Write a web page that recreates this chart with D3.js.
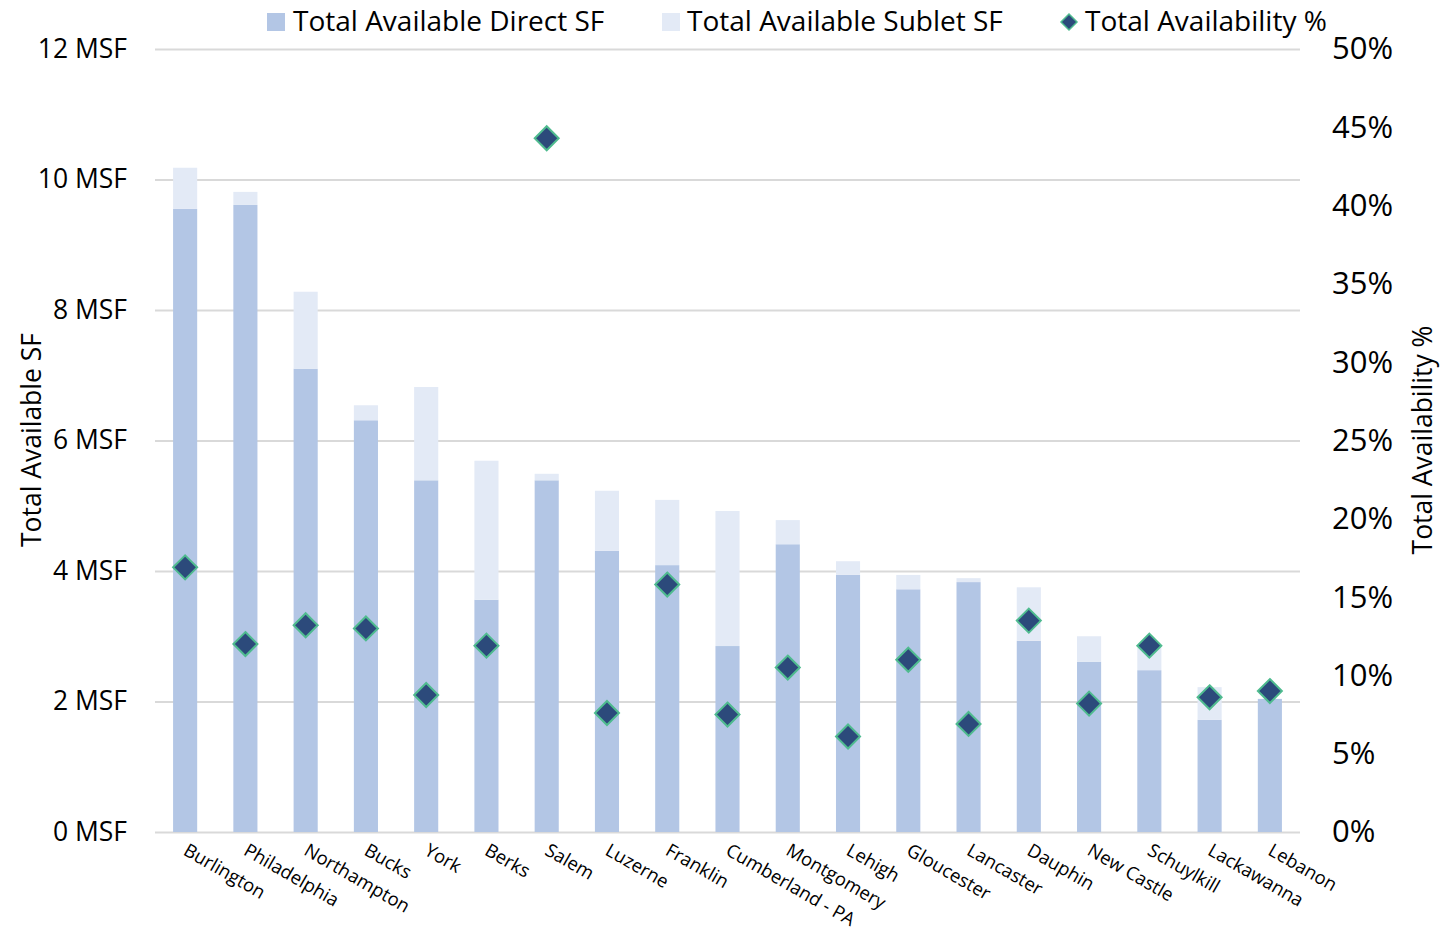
<html>
<head>
  <script src="https://d3js.org/d3.v7.min.js"></script>
  <style>
    body { margin: 0; background: #fff; }
    svg text { font-family: "Open Sans", sans-serif; fill: #000; }
    .gridlines line { stroke: #d9d9d9; stroke-width: 2; }
    .gridlines .domain { stroke: none; }
  </style>
</head>
<body>
<svg id="chart" width="1440" height="936"></svg>
<script>
  // categories and series values (MSF / %)
  const markets = ["Burlington", "Philadelphia", "Northampton", "Bucks", "York", "Berks", "Salem",
    "Luzerne", "Franklin", "Cumberland - PA", "Montgomery", "Lehigh", "Gloucester", "Lancaster",
    "Dauphin", "New Castle", "Schuylkill", "Lackawanna", "Lebanon"];
  const directSF = [9.55, 9.61, 7.10, 6.31, 5.39, 3.56, 5.39, 4.31, 4.09, 2.85, 4.41, 3.94, 3.72, 3.83, 2.93, 2.61, 2.48, 1.72, 2.04];
  const subletSF = [0.63, 0.20, 1.18, 0.23, 1.43, 2.13, 0.10, 0.92, 1.00, 2.07, 0.37, 0.21, 0.22, 0.06, 0.82, 0.39, 0.35, 0.50, 0.00];
  const availPct = [16.9, 12.0, 13.2, 13.0, 8.75, 11.9, 44.3, 7.6, 15.8, 7.5, 10.5, 6.1, 11.0, 6.9, 13.5, 8.2, 11.9, 8.6, 9.0];
  const leftTicks = [0, 2, 4, 6, 8, 10, 12];
  const rightTicks = [0, 5, 10, 15, 20, 25, 30, 35, 40, 45, 50];

  const svg = d3.select("#chart");
  const margin = { top: 49, right: 140, bottom: 104, left: 155 };
  const chartWidth = 1440 - margin.left - margin.right;
  const chartHeight = 936 - margin.top - margin.bottom;

  const x = d3.scaleBand().domain(markets).range([0, chartWidth]).paddingInner(0.6).paddingOuter(0.3);
  const yL = d3.scaleLinear().domain([0, 12]).range([chartHeight, 0]);
  const yR = d3.scaleLinear().domain([0, 50]).range([chartHeight, 0]);

  const g = svg.append("g").attr("transform", `translate(${margin.left},${margin.top})`);

  // gridlines
  g.append("g").attr("class", "gridlines")
    .call(d3.axisLeft(yL).tickValues(leftTicks).tickSize(-chartWidth).tickFormat(""));

  // left axis labels
  const leftAxis = g.append("g")
    .call(d3.axisLeft(yL).tickValues(leftTicks).tickSize(0).tickPadding(28).tickFormat(d => d + " MSF"));
  leftAxis.select(".domain").remove();
  leftAxis.selectAll("text").style("font-size", "26.5px").style("font-family", "'Open Sans', sans-serif");

  // right axis labels
  const rightAxis = g.append("g").attr("transform", `translate(${chartWidth},0)`)
    .call(d3.axisRight(yR).tickValues(rightTicks).tickSize(0).tickPadding(32).tickFormat(d => d + "%"));
  rightAxis.select(".domain").remove();
  rightAxis.selectAll("text").style("font-size", "31px").style("font-family", "'Open Sans', sans-serif");

  // stacked bars
  const rows = markets.map((m, i) => ({ m, direct: directSF[i], sublet: subletSF[i], pct: availPct[i] }));

  g.selectAll("rect.direct").data(rows).join("rect")
    .attr("class", "direct")
    .attr("fill", "#b3c6e5")
    .attr("x", d => x(d.m))
    .attr("width", x.bandwidth())
    .attr("y", d => yL(d.direct))
    .attr("height", d => yL(0) - yL(d.direct));

  g.selectAll("rect.sublet").data(rows).join("rect")
    .attr("class", "sublet")
    .attr("fill", "#e3eaf6")
    .attr("x", d => x(d.m))
    .attr("width", x.bandwidth())
    .attr("y", d => yL(d.direct + d.sublet))
    .attr("height", d => yL(d.direct) - yL(d.direct + d.sublet));

  // diamonds for availability %
  const diamond = "M0,-12L12,0L0,12L-12,0Z";
  g.selectAll("path.pt").data(rows).join("path")
    .attr("class", "pt")
    .attr("d", diamond)
    .attr("fill", "#2c4a7b")
    .attr("stroke", "#4fbb8f")
    .attr("stroke-width", 2)
    .attr("transform", d => `translate(${x(d.m) + x.bandwidth() / 2},${yR(d.pct)})`);

  // x labels, rotated
  g.selectAll("text.cat").data(markets).join("text")
    .attr("class", "cat")
    .attr("text-anchor", "start")
    .style("font-size", "18.5px")
    .attr("transform", d => `translate(${x(d) + x.bandwidth() / 2 - 3},${chartHeight + 22}) rotate(30)`)
    .text(d => d);

  // axis titles
  svg.append("text")
    .attr("transform", "translate(41,440) rotate(-90)")
    .attr("text-anchor", "middle")
    .style("font-size", "26.5px")
    .text("Total Available SF");
  svg.append("text")
    .attr("transform", "translate(1432,440) rotate(-90)")
    .attr("text-anchor", "middle")
    .style("font-size", "26.5px")
    .text("Total Availability %");

  // legend
  const legend = svg.append("g").style("font-size", "28px");
  legend.append("rect").attr("x", 267).attr("y", 13).attr("width", 18).attr("height", 18).attr("fill", "#b3c6e5");
  legend.append("text").attr("x", 293).attr("y", 31).text("Total Available Direct SF");
  legend.append("rect").attr("x", 662).attr("y", 13).attr("width", 18).attr("height", 18).attr("fill", "#e3eaf6");
  legend.append("text").attr("x", 687).attr("y", 31).text("Total Available Sublet SF");
  legend.append("path").attr("d", "M0,-8L8,0L0,8L-8,0Z")
    .attr("transform", "translate(1069,22)")
    .attr("fill", "#2c4a7b").attr("stroke", "#4fbb8f").attr("stroke-width", 1.5);
  legend.append("text").attr("x", 1085).attr("y", 31).text("Total Availability %");
</script>
</body>
</html>
